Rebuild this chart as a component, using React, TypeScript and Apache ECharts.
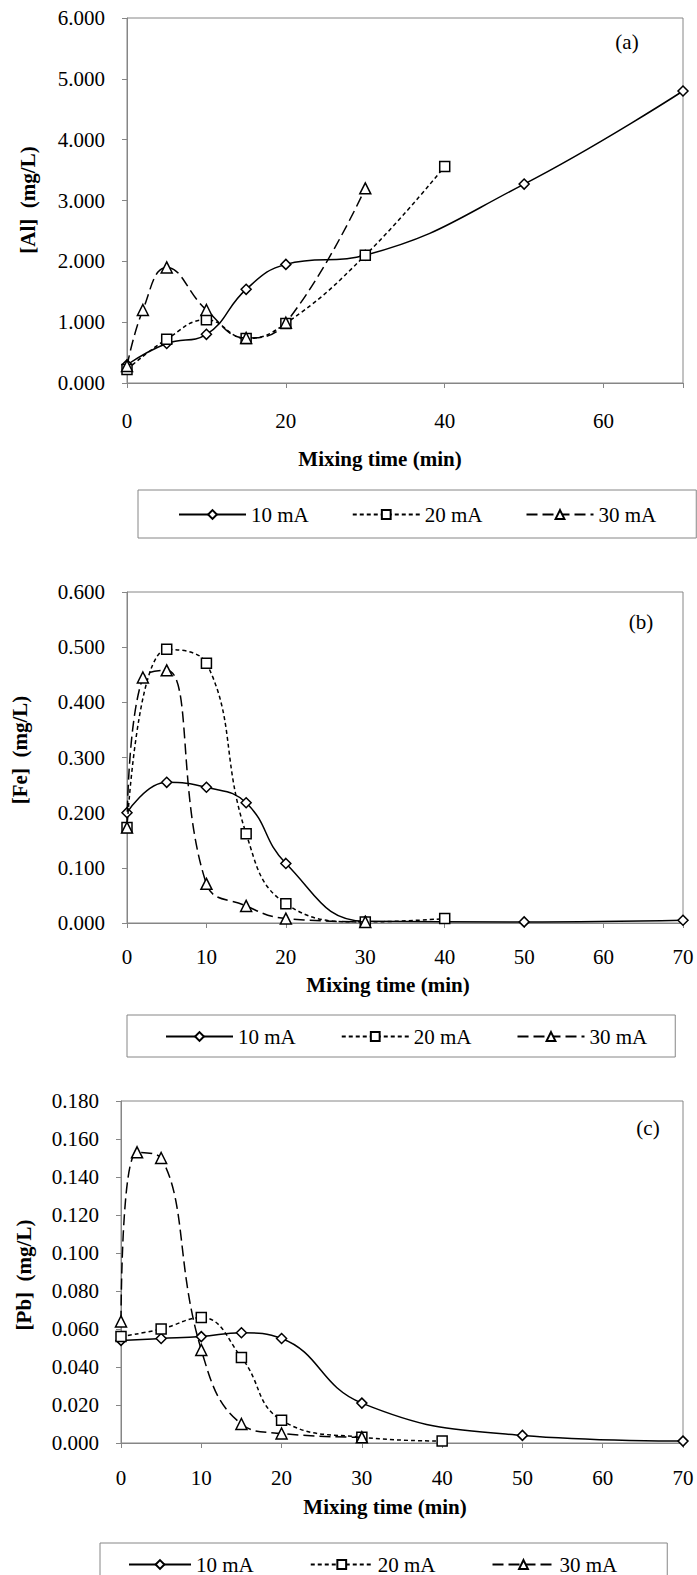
import React, { useEffect, useRef } from "react";
import * as echarts from "echarts";

// ---------- data ----------
const seriesNames = ["10 mA", "20 mA", "30 mA"];

// (a) Aluminium
const alTime10 = [0, 5, 10, 15, 20, 30, 50, 70];
const alVal10 = [0.3, 0.65, 0.8, 1.54, 1.95, 2.1, 3.27, 4.8];
const alTime20 = [0, 5, 10, 15, 20, 30, 40];
const alVal20 = [0.22, 0.72, 1.04, 0.73, 0.98, 2.1, 3.56];
const alTime30 = [0, 2, 5, 10, 15, 20, 30];
const alVal30 = [0.28, 1.2, 1.9, 1.2, 0.74, 0.99, 3.2];

// (b) Iron
const feTime10 = [0, 5, 10, 15, 20, 30, 50, 70];
const feVal10 = [0.2, 0.255, 0.246, 0.218, 0.108, 0.003, 0.002, 0.005];
const feTime20 = [0, 5, 10, 15, 20, 30, 40];
const feVal20 = [0.173, 0.496, 0.471, 0.162, 0.035, 0.002, 0.008];
const feTime30 = [0, 2, 5, 10, 15, 20, 30];
const feVal30 = [0.173, 0.445, 0.458, 0.071, 0.031, 0.008, 0.002];

// (c) Lead
const pbTime10 = [0, 5, 10, 15, 20, 30, 50, 70];
const pbVal10 = [0.054, 0.055, 0.056, 0.058, 0.055, 0.021, 0.004, 0.001];
const pbTime20 = [0, 5, 10, 15, 20, 30, 40];
const pbVal20 = [0.056, 0.06, 0.066, 0.045, 0.012, 0.003, 0.001];
const pbTime30 = [0, 2, 5, 10, 15, 20, 30];
const pbVal30 = [0.064, 0.153, 0.15, 0.049, 0.01, 0.005, 0.003];

const xTitle = "Mixing time (min)";
const yTitles = ["[Al]  (mg/L)", "[Fe]  (mg/L)", "[Pb]  (mg/L)"];
const panelTags = ["(a)", "(b)", "(c)"];

// ---------- styling ----------
const FONT = "Liberation Serif";
const AXIS_GRAY = "#868686";

const zip = (xs: number[], ys: number[]) => xs.map((x, i) => [x, ys[i]]);

const styles = [
  { symbol: "diamond", size: 10, dash: "solid" as any },
  { symbol: "rect", size: 10, dash: [4, 3] as any },
  { symbol: "triangle", size: 11, dash: [11, 5] as any },
];

function makeSeries(gridIdx: number, sets: number[][][]) {
  return sets.map((data, i) => ({
    type: "line",
    name: seriesNames[i],
    xAxisIndex: gridIdx,
    yAxisIndex: gridIdx,
    data,
    smooth: 0.45,
    symbol: styles[i].symbol,
    symbolSize: styles[i].size,
    showAllSymbol: true,
    lineStyle: { color: "#000", width: 1.5, type: styles[i].dash },
    itemStyle: { color: "#fff", borderColor: "#000", borderWidth: 1.5 },
    emphasis: { disabled: true },
    z: 3 + i,
  }));
}

function xAxisCfg(gridIdx: number, interval: number, margin: number) {
  return {
    type: "value",
    gridIndex: gridIdx,
    min: 0,
    max: 70,
    interval,
    axisLine: { show: true, lineStyle: { color: AXIS_GRAY, width: 1 } },
    axisTick: { show: true, length: 5, lineStyle: { color: AXIS_GRAY } },
    splitLine: { show: false },
    axisLabel: {
      margin,
      color: "#000",
      fontFamily: FONT,
      fontSize: 21,
      formatter: (v: number) => (Math.round(v) % interval === 0 ? String(v) : ""),
    },
  };
}

function yAxisCfg(gridIdx: number, max: number, interval: number) {
  return {
    type: "value",
    gridIndex: gridIdx,
    min: 0,
    max,
    interval,
    axisLine: { show: true, lineStyle: { color: AXIS_GRAY, width: 1 } },
    axisTick: { show: true, length: 5, lineStyle: { color: AXIS_GRAY } },
    splitLine: { show: false },
    axisLabel: {
      margin: 22,
      color: "#000",
      fontFamily: FONT,
      fontSize: 21,
      formatter: (v: number) => v.toFixed(3),
    },
  };
}

function legendCfg(left: number, top: number, padding: number[], itemWidth: number, itemGap: number) {
  return {
    left,
    top,
    orient: "horizontal",
    data: seriesNames,
    itemWidth,
    itemHeight: 11,
    itemGap,
    padding,
    borderColor: AXIS_GRAY,
    borderWidth: 1,
    selectedMode: false,
    textStyle: { fontFamily: FONT, fontSize: 21, color: "#000" },
  };
}

function textEl(text: string, x: number, y: number, opts: any = {}) {
  return {
    type: "text",
    x,
    y,
    rotation: opts.rotation || 0,
    style: {
      text,
      fill: "#000",
      fontFamily: FONT,
      fontSize: opts.size || 21,
      fontWeight: opts.bold ? "bold" : "normal",
      align: "center",
      verticalAlign: "middle",
    },
    z: 10,
  };
}

export default function App() {
  const ref = useRef<HTMLDivElement>(null);

  useEffect(() => {
    if (!ref.current) return;
    document.body.style.margin = "0";
    const chart = echarts.init(ref.current, undefined, { renderer: "svg" });

    const option: any = {
      animation: false,
      backgroundColor: "#fff",
      textStyle: { fontFamily: FONT },
      grid: [
        { left: 127, top: 18, width: 556, height: 365, show: true, borderColor: AXIS_GRAY, borderWidth: 1 },
        { left: 127, top: 592, width: 556, height: 331, show: true, borderColor: AXIS_GRAY, borderWidth: 1 },
        { left: 121, top: 1101, width: 562, height: 342, show: true, borderColor: AXIS_GRAY, borderWidth: 1 },
      ],
      xAxis: [xAxisCfg(0, 20, 27), xAxisCfg(1, 10, 23), xAxisCfg(2, 10, 24)],
      yAxis: [yAxisCfg(0, 6, 1), yAxisCfg(1, 0.6, 0.1), yAxisCfg(2, 0.18, 0.02)],
      legend: [
        legendCfg(138, 490, [14, 40, 13, 40], 67, 43),
        legendCfg(127, 1015, [11, 28, 10, 38], 67, 45),
        legendCfg(100, 1543, [11, 50, 14, 28], 62, 56),
      ],
      series: [
        ...makeSeries(0, [zip(alTime10, alVal10), zip(alTime20, alVal20), zip(alTime30, alVal30)]),
        ...makeSeries(1, [zip(feTime10, feVal10), zip(feTime20, feVal20), zip(feTime30, feVal30)]),
        ...makeSeries(2, [zip(pbTime10, pbVal10), zip(pbTime20, pbVal20), zip(pbTime30, pbVal30)]),
      ],
      graphic: [
        textEl(xTitle, 380, 459, { bold: true }),
        textEl(xTitle, 388, 985, { bold: true }),
        textEl(xTitle, 385, 1507, { bold: true }),
        textEl(yTitles[0], 28, 200, { bold: true, rotation: Math.PI / 2 }),
        textEl(yTitles[1], 20, 750, { bold: true, rotation: Math.PI / 2 }),
        textEl(yTitles[2], 24, 1275, { bold: true, rotation: Math.PI / 2 }),
        textEl(panelTags[0], 627, 42),
        textEl(panelTags[1], 641, 622),
        textEl(panelTags[2], 648, 1128),
      ],
    };

    chart.setOption(option);
    return () => chart.dispose();
  }, []);

  return (
    <div
      ref={ref}
      style={{ position: "absolute", left: 0, top: 0, width: 697, height: 1575 }}
    />
  );
}
